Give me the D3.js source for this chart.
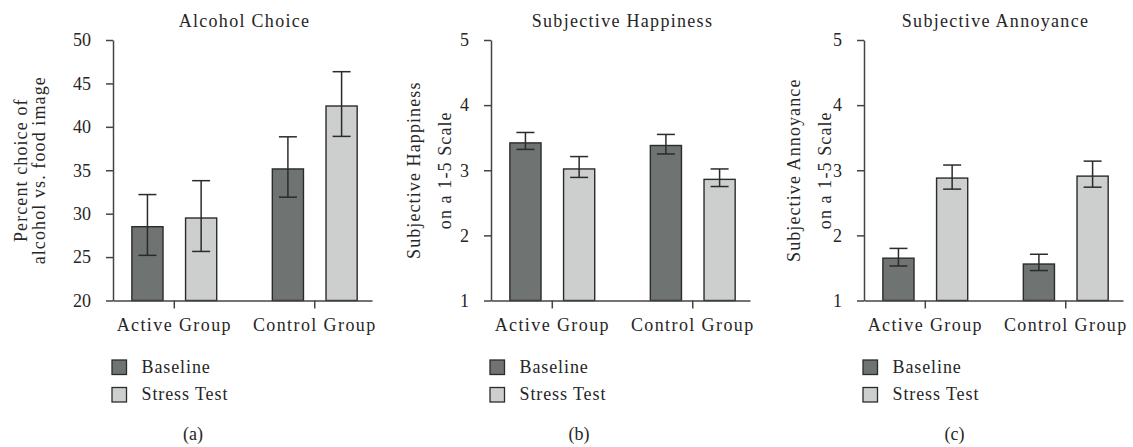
<!DOCTYPE html>
<html>
<head>
<meta charset="utf-8">
<script src="https://cdn.jsdelivr.net/npm/d3@7"></script>
<style>
  html, body { margin: 0; padding: 0; background: #fff; }
  svg { display: block; }
  text { font-family: "Liberation Serif", "DejaVu Serif", serif; fill: #262626; }
</style>
</head>
<body>
<svg id="chart" width="1133" height="447"></svg>
<script>
// ---- data ----
const groups = ["Active Group", "Control Group"];
const conditions = ["Baseline", "Stress Test"];
const panelLetters = ["(a)", "(b)", "(c)"];
const titles = ["Alcohol Choice", "Subjective Happiness", "Subjective Annoyance"];
const yLabelLines = [
  ["Percent choice of", "alcohol vs. food image"],
  ["Subjective Happiness", "on a 1-5 Scale"],
  ["Subjective Annoyance", "on a 1-5 Scale"]
];
const yTicksA = [20, 25, 30, 35, 40, 45, 50];
const yTicksBC = [1, 2, 3, 4, 5];

// Alcohol choice (%)
const alcoholBaseline = [28.5, 35.15];
const alcoholBaselineLow = [25.2, 31.9];
const alcoholBaselineHigh = [32.2, 38.85];
const alcoholStress = [29.5, 42.4];
const alcoholStressLow = [25.65, 38.9];
const alcoholStressHigh = [33.8, 46.35];

// Subjective happiness (1-5)
const happyBaseline = [3.42, 3.38];
const happyBaselineLow = [3.32, 3.25];
const happyBaselineHigh = [3.58, 3.55];
const happyStress = [3.02, 2.86];
const happyStressLow = [2.89, 2.75];
const happyStressHigh = [3.21, 3.02];

// Subjective annoyance (1-5)
const annoyBaseline = [1.65, 1.56];
const annoyBaselineLow = [1.53, 1.46];
const annoyBaselineHigh = [1.80, 1.71];
const annoyStress = [2.88, 2.91];
const annoyStressLow = [2.71, 2.74];
const annoyStressHigh = [3.08, 3.14];

// ---- panel configuration ----
const panels = [
  { ticks: yTicksA, domain: [20, 50],
    series: [[alcoholBaseline, alcoholBaselineLow, alcoholBaselineHigh],
             [alcoholStress, alcoholStressLow, alcoholStressHigh]] },
  { ticks: yTicksBC, domain: [1, 5],
    series: [[happyBaseline, happyBaselineLow, happyBaselineHigh],
             [happyStress, happyStressLow, happyStressHigh]] },
  { ticks: yTicksBC, domain: [1, 5],
    series: [[annoyBaseline, annoyBaselineLow, annoyBaselineHigh],
             [annoyStress, annoyStressLow, annoyStressHigh]] }
];

const axisXs = [113, 491, 864];
const yLabelBaselines = [[27, 45], [420, 451], [800, 831]];
const letterCenters = [193, 579, 954.5];
const plotW = 259, plotTop = 40, plotBottom = 300.5;
const colors = { "Baseline": "#6f7372", "Stress Test": "#cdcfce" };
const ink = "#2b2b2b";
const fontStack = '"Liberation Serif", "DejaVu Serif", serif';

const svg = d3.select("#chart");

panels.forEach((p, i) => {
  const g = svg.append("g").attr("transform", `translate(${axisXs[i]},0)`);

  const y = d3.scaleLinear().domain(p.domain).range([plotBottom, plotTop]);
  const x0 = d3.scaleBand().domain(groups).range([0, plotW])
    .paddingInner(0.396).paddingOuter(0.12).align(0.56);
  const x1 = d3.scaleBand().domain(conditions).range([0, x0.bandwidth()])
    .paddingInner(0.42).paddingOuter(0);

  // bars + error bars
  conditions.forEach((c, ci) => {
    const [mean, low, high] = p.series[ci];
    groups.forEach((grp, gi) => {
      const bx = x0(grp) + x1(c);
      const bw = x1.bandwidth();
      g.append("rect")
        .attr("x", bx).attr("y", y(mean[gi]))
        .attr("width", bw).attr("height", y(p.domain[0]) - y(mean[gi]))
        .attr("fill", colors[c]).attr("stroke", ink).attr("stroke-width", 1.4);
      const cx = bx + bw / 2, cap = 9;
      const eg = g.append("g").attr("stroke", ink).attr("stroke-width", 1.5);
      eg.append("line").attr("x1", cx).attr("x2", cx).attr("y1", y(high[gi])).attr("y2", y(low[gi]));
      eg.append("line").attr("x1", cx - cap).attr("x2", cx + cap).attr("y1", y(high[gi])).attr("y2", y(high[gi]));
      eg.append("line").attr("x1", cx - cap).attr("x2", cx + cap).attr("y1", y(low[gi])).attr("y2", y(low[gi]));
    });
  });

  // y axis
  const ya = g.append("g")
    .call(d3.axisLeft(y).tickValues(p.ticks).tickFormat(d3.format("d"))
      .tickSize(7).tickSizeOuter(0).tickPadding(15));
  ya.attr("font-family", null);
  ya.selectAll("path, line").attr("stroke", "#444").attr("stroke-width", 1.5);
  ya.selectAll("text").attr("font-size", 18).attr("fill", "#262626")
    .style("font-family", fontStack);

  // x axis
  const xa = g.append("g").attr("transform", `translate(0,${plotBottom})`)
    .call(d3.axisBottom(x0).tickSize(8).tickSizeOuter(0).tickPadding(9.5));
  xa.attr("font-family", null);
  xa.selectAll("path, line").attr("stroke", "#444").attr("stroke-width", 1.5);
  xa.selectAll("text").attr("font-size", 18).attr("fill", "#262626")
    .attr("letter-spacing", 1.4)
    .style("font-family", fontStack);

  // title
  g.append("text").attr("x", plotW / 2 + 2).attr("y", 26.5)
    .attr("text-anchor", "middle").attr("font-size", 18).attr("letter-spacing", 1.3)
    .text(titles[i]);

  // y label (two lines)
  const midY = (plotTop + plotBottom) / 2;
  yLabelLines[i].forEach((line, li) => {
    svg.append("text")
      .attr("transform", `translate(${yLabelBaselines[i][li]},${midY}) rotate(-90)`)
      .attr("text-anchor", "middle").attr("font-size", 18).attr("letter-spacing", 1.1)
      .text(line);
  });

  // legend
  const lx = axisXs[i] - 1;
  conditions.forEach((c, ci) => {
    const ly = 360 + ci * 27.5;
    svg.append("rect").attr("x", lx).attr("y", ly).attr("width", 14.5).attr("height", 14.5)
      .attr("fill", colors[c]).attr("stroke", ink).attr("stroke-width", 1.3);
    svg.append("text").attr("x", lx + 29.5).attr("y", ly + 12.5)
      .attr("font-size", 18).attr("letter-spacing", 0.9).text(c);
  });

  // panel letter
  svg.append("text").attr("x", letterCenters[i]).attr("y", 440)
    .attr("text-anchor", "middle").attr("font-size", 18).text(panelLetters[i]);
});
</script>
</body>
</html>
